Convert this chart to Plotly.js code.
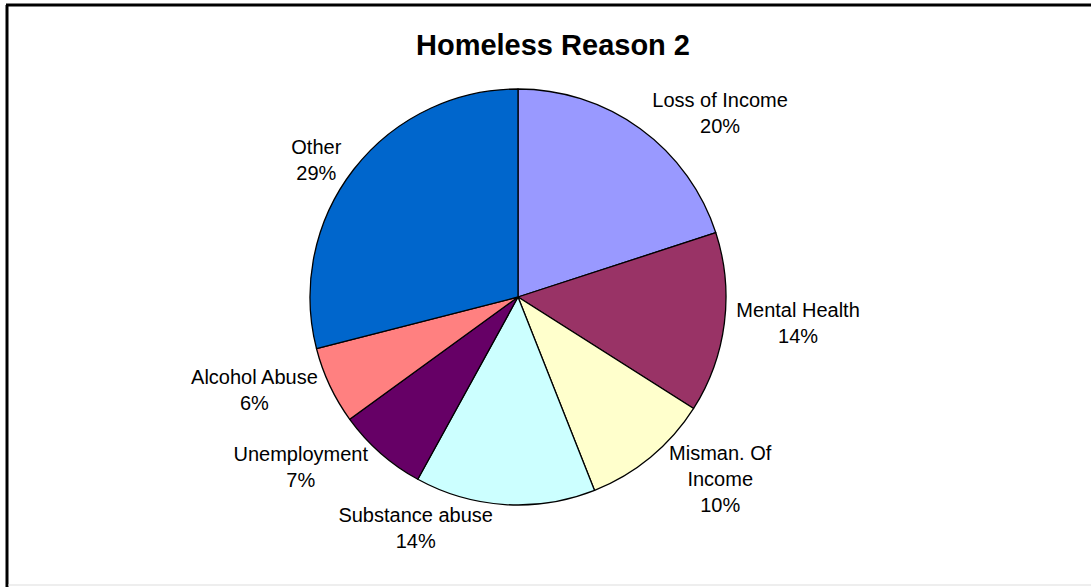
<!DOCTYPE html>
<html>
<head>
<meta charset="utf-8">
<script src="https://cdn.plot.ly/plotly-3.0.1.min.js"></script>
<style>html,body{margin:0;padding:0;background:#fff;}#chart{width:1091px;height:587px;}</style>
</head>
<body>
<div id="chart"></div>
<script>
var categories = ["Loss of Income", "Mental Health", "Misman. Of Income", "Substance abuse", "Unemployment", "Alcohol Abuse", "Other"];
var labelText = ["Loss of Income", "Mental Health", "Misman. Of<br>Income", "Substance abuse", "Unemployment", "Alcohol Abuse", "Other"];
var values = [20, 14, 10, 14, 7, 6, 29];
var colors = ["#9999FF", "#993366", "#FFFFCC", "#CCFFFF", "#660066", "#FF8080", "#0066CC"];

var W = 1091, H = 587, cx = 518, cy = 297, R = 208;

var trace = {
  type: "pie",
  labels: categories,
  values: values,
  customdata: labelText,
  sort: false,
  direction: "clockwise",
  rotation: 0,
  marker: {colors: colors, line: {color: "#000", width: 1.3}},
  textposition: "outside",
  texttemplate: "%{customdata}<br>%{percent:.0%}",
  textfont: {family: "Liberation Sans, Arial, sans-serif", size: 20, color: "#000"},
  hoverinfo: "label+percent",
  showlegend: false,
  automargin: false,
  domain: {x: [(cx - R) / W, (cx + R) / W], y: [(H - cy - R) / H, (H - cy + R) / H]}
};

var layout = {
  width: W, height: H,
  margin: {l: 0, r: 0, t: 0, b: 0},
  paper_bgcolor: "#fff",
  title: {text: "<b>Homeless Reason 2</b>", x: 553 / W, xanchor: "center", y: 1 - 45 / H, yanchor: "middle",
          font: {family: "Liberation Sans, Arial, sans-serif", size: 29, color: "#000"}},
  showlegend: false,
  shapes: [
    {type: "line", xref: "paper", yref: "paper", x0: 6 / W, x1: 1, y0: 1 - 5 / H, y1: 1 - 5 / H, line: {color: "#000", width: 3}},
    {type: "line", xref: "paper", yref: "paper", x0: 7 / W, x1: 7 / W, y0: 0, y1: 1 - 5 / H, line: {color: "#000", width: 3}},
    {type: "line", xref: "paper", yref: "paper", x0: 8 / W, x1: 1, y0: 2 / H, y1: 2 / H, line: {color: "#ddd", width: 1}}
  ]
};

Plotly.newPlot("chart", [trace], layout, {displayModeBar: false});
</script>
</body>
</html>
